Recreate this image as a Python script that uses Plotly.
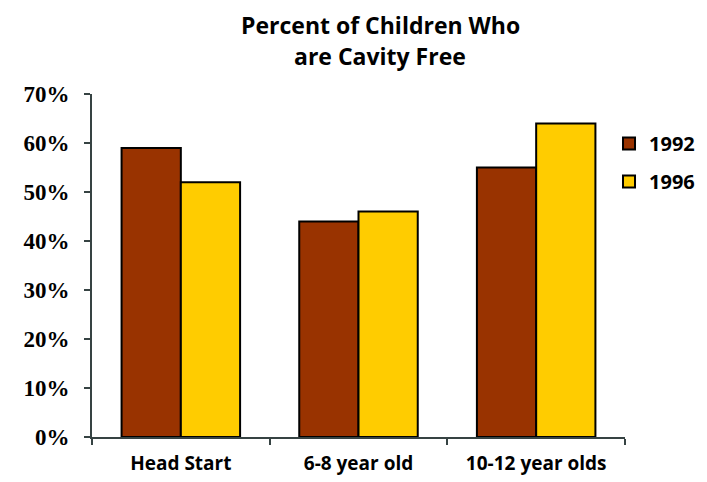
import plotly.graph_objects as go

categories = ["Head Start", "6-8 year old", "10-12 year olds"]
values_1992 = [59, 44, 55]
values_1996 = [52, 46, 64]
series_names = ["1992", "1996"]
y_ticks = [0, 10, 20, 30, 40, 50, 60, 70]
y_tick_labels = ["0%", "10%", "20%", "30%", "40%", "50%", "60%", "70%"]
title_lines = ["Percent of Children Who", "are Cavity Free"]

axis_color = "#364343"
sans = "'Open Sans', Lato, sans-serif"
serif = "'Liberation Serif', 'Times New Roman', serif"

fig = go.Figure()
fig.add_trace(go.Bar(
    x=categories, y=values_1992, name=series_names[0], legendgroup="a",
    marker=dict(color="#993300", line=dict(color="black", width=2)),
))
fig.add_trace(go.Bar(
    x=categories, y=values_1996, name=series_names[1], legendgroup="b",
    marker=dict(color="#FFCC00", line=dict(color="black", width=2)),
))

fig.add_annotation(
    text=title_lines[0], xref="paper", yref="paper",
    x=(372 - 84) / 533, y=1 + 86 / 343, xanchor="center", yanchor="top",
    borderpad=0, showarrow=False,
    font=dict(family=sans, size=23, color="black", weight="bold"),
)
fig.add_annotation(
    text=title_lines[1], xref="paper", yref="paper",
    x=(372 - 84) / 533, y=1 + 38 / 343, xanchor="center", yanchor="middle",
    borderpad=0, showarrow=False,
    font=dict(family=sans, size=23, color="black", weight="bold"),
)

fig.update_layout(
    width=699, height=474,
    margin=dict(l=84, r=82, t=86, b=45, autoexpand=False),
    paper_bgcolor="white", plot_bgcolor="white",
    barmode="group", bargap=0.333, bargroupgap=0,
    legend=dict(
        x=0.970, xanchor="left", y=0.9125, yanchor="top",
        traceorder="grouped", tracegroupgap=9,
        font=dict(family=sans, size=20, color="black", weight="bold"),
        itemwidth=30, bgcolor="rgba(0,0,0,0)",
    ),
    xaxis=dict(
        showline=True, linecolor=axis_color, linewidth=2,
        ticks="outside", tickson="boundaries", ticklen=6, tickcolor=axis_color, tickwidth=2,
        tickfont=dict(family=sans, size=19, color="black", weight="bold"),
        ticklabelstandoff=8, automargin=False,
    ),
    yaxis=dict(
        range=[0, 70], tickvals=y_ticks, ticktext=y_tick_labels,
        showline=True, linecolor=axis_color, linewidth=2,
        ticks="outside", ticklen=6, tickcolor=axis_color, tickwidth=2,
        showgrid=False, zeroline=False,
        tickfont=dict(family=serif, size=23, color="black", weight="bold"),
        ticklabelstandoff=10, automargin=False,
    ),
)

fig.write_html("out.html")
